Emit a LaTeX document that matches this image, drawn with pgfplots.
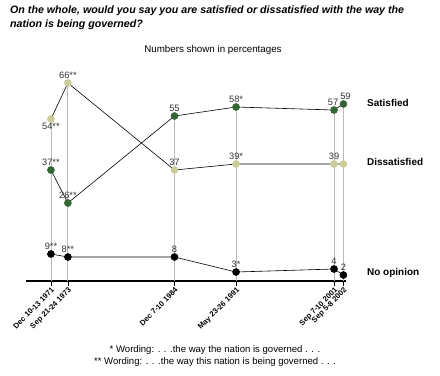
\documentclass[border=0pt]{standalone}
\usepackage{pgfplots}
\pgfplotsset{compat=1.18}
\usepackage{fontspec}
\setmainfont{Liberation Sans}
\definecolor{satg}{HTML}{336633}
\definecolor{dissb}{HTML}{CCCC99}
\definecolor{dropg}{HTML}{BBBBBB}
\begin{document}
\begin{tikzpicture}[x=1bp,y=1bp]
\useasboundingbox (-26,-94) rectangle (414,281);
\begin{axis}[
  at={(0,0)}, anchor=origin,
  scale only axis, width=320bp, height=210bp,
  xmin=1969.33, xmax=2002.95, ymin=0, ymax=70,
  axis x line=bottom, axis y line=none,
  axis line style={line width=1.6pt, -},
  xtick={1971.95,1973.73,1984.93,1991.40,2001.69,2002.68},
  xticklabels={Dec 10-13 1971,Sep 21-24 1973,Dec 7-10 1984,May 23-26 1991,Sep 7-10 2001,Sep 5-8 2002},
  xticklabel style={rotate=45, anchor=north east, font=\bfseries\fontsize{7.6}{8}\selectfont, inner sep=0.5pt},
  tick align=outside, major tick length=5bp, tick style={black, line width=0.6pt},
  clip=false,
]
\addplot[ycomb, dropg, line width=0.8pt, no markers] coordinates {
 (1971.95,54) (1973.73,66) (1984.93,55) (1991.40,58) (2001.69,57) (2002.68,59)};
\addplot[black, line width=0.6pt, mark=*, mark size=3.5, mark options={fill=satg, draw=satg}] coordinates {
 (1971.95,37) (1973.73,26) (1984.93,55) (1991.40,58) (2001.69,57) (2002.68,59)};
\addplot[black, line width=0.6pt, mark=*, mark size=3.5, mark options={fill=dissb, draw=dissb}] coordinates {
 (1971.95,54) (1973.73,66) (1984.93,37) (1991.40,39) (2001.69,39) (2002.68,39)};
\addplot[black, line width=0.6pt, mark=*, mark size=3.5, mark options={fill=black, draw=black}] coordinates {
 (1971.95,9) (1973.73,8) (1984.93,8) (1991.40,3) (2001.69,4) (2002.68,2)};
\begin{scope}[every node/.style={font=\fontsize{9.3}{10}\selectfont, text=black!80, inner sep=1pt}]
\node[above=3bp] at (axis cs:1971.95,37) {37**};
\node[above=3bp] at (axis cs:1973.73,26) {26**};
\node[above=3bp] at (axis cs:1984.93,55) {55};
\node[above=3bp] at (axis cs:1991.40,58) {58*};
\node[above=3bp, xshift=-1bp] at (axis cs:2001.69,57) {57};
\node[above=3bp, xshift=2bp] at (axis cs:2002.68,59) {59};
\node[below=3bp] at (axis cs:1971.95,54) {54**};
\node[above=3bp] at (axis cs:1973.73,66) {66**};
\node[above=3bp] at (axis cs:1984.93,37) {37};
\node[above=3bp] at (axis cs:1991.40,39) {39*};
\node[above=3bp] at (axis cs:2001.69,39) {39};
\node[above=3bp] at (axis cs:1971.95,9) {9**};
\node[above=3bp] at (axis cs:1973.73,8) {8**};
\node[above=3bp] at (axis cs:1984.93,8) {8};
\node[above=3bp] at (axis cs:1991.40,3) {3*};
\node[above=3bp] at (axis cs:2001.69,4) {4};
\node[above=3bp] at (axis cs:2002.68,2) {2};
\end{scope}
\end{axis}
\node[anchor=north west, inner sep=0, align=left, font=\bfseries\itshape\fontsize{10.7}{13.5}\selectfont] at (-16,275)
 {On the whole, would you say you are satisfied or dissatisfied with the way the\\nation is being governed?};
\node[font=\fontsize{9.8}{10}\selectfont, inner sep=0] at (187,231) {Numbers shown in percentages};
\node[anchor=west, font=\bfseries\fontsize{10}{11}\selectfont, inner sep=0] at (341,178) {Satisfied};
\node[anchor=west, font=\bfseries\fontsize{10}{11}\selectfont, inner sep=0] at (341,119) {Dissatisfied};
\node[anchor=west, font=\bfseries\fontsize{10}{11}\selectfont, inner sep=0] at (341,8) {No opinion};
\node[align=center, font=\fontsize{9.6}{11.5}\selectfont, inner sep=0] at (189,-75)
 {* Wording: . . .the way the nation is governed . . .\\** Wording: . . .the way this nation is being governed . . .};
\end{tikzpicture}
\end{document}
